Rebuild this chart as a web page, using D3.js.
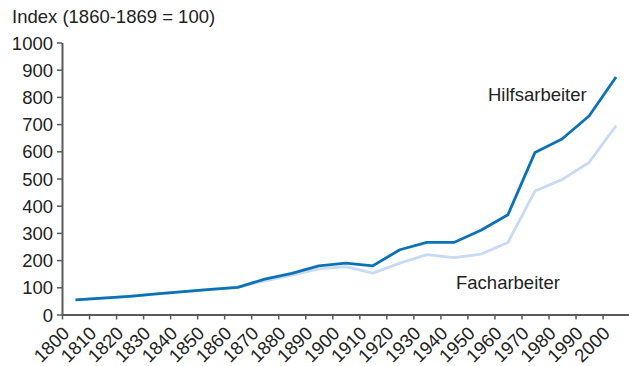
<!DOCTYPE html>
<html>
<head>
<meta charset="utf-8">
<script src="https://cdn.jsdelivr.net/npm/d3@7"></script>
<style>
  html, body { margin: 0; padding: 0; background: #fff; }
  svg text { font-family: "Liberation Sans", Arial, Helvetica, sans-serif; fill: #222; }
</style>
</head>
<body>
<svg id="chart" width="629" height="366"></svg>
<script>
// Decade midpoints (values plotted at the middle of each decade)
const years = [1805, 1815, 1825, 1835, 1845, 1855, 1865, 1875, 1885, 1895, 1905,
               1915, 1925, 1935, 1945, 1955, 1965, 1975, 1985, 1995, 2005];
// Real wage index, 1860-1869 = 100
const hilfsarbeiter = [54, 60, 67, 76, 84, 92, 100, 130, 151, 179, 189,
                       179, 238, 265, 265, 310, 367, 596, 645, 730, 873];
const facharbeiter  = [54, 60, 67, 76, 84, 92, 100, 124, 145, 168, 176,
                       152, 189, 220, 209, 222, 265, 454, 496, 559, 694];
const xTicks = d3.range(1800, 2001, 10);
const yTicks = d3.range(0, 1001, 100);

const svg = d3.select("#chart");
const x = d3.scaleLinear().domain([1800, 2010]).range([62, 629.6]);
const y = d3.scaleLinear().domain([0, 1000]).range([314.5, 42.5]);

// Title
svg.append("text").attr("x", 12).attr("y", 23)
  .style("font-size", "18.5px").text("Index (1860-1869 = 100)");

// Y axis
const yAxis = svg.append("g").attr("transform", "translate(62,0)")
  .call(d3.axisLeft(y).tickValues(yTicks).tickFormat(d3.format("d"))
    .tickSize(5).tickPadding(4).tickSizeOuter(0));
yAxis.selectAll("text").style("font-size", "18.5px").attr("dy", "0.36em");

// X axis with labels rotated 45 degrees
const xAxis = svg.append("g").attr("transform", "translate(0,314.5)")
  .call(d3.axisBottom(x).tickValues(xTicks).tickFormat(d3.format("d")).tickSize(5).tickSizeOuter(0));
xAxis.selectAll("text")
  .style("font-size", "18.5px")
  .attr("text-anchor", "end")
  .attr("x", 0).attr("y", 0).attr("dx", 0).attr("dy", 0)
  .attr("transform", "translate(8,20) rotate(-45)");

[yAxis, xAxis].forEach(g => {
  g.select(".domain").attr("stroke", "#5a5a5a").attr("stroke-width", 2);
  g.selectAll(".tick line").attr("stroke", "#5a5a5a").attr("stroke-width", 1.5);
});

const line = d3.line().x((d, i) => x(years[i])).y(d => y(d));

svg.append("path").datum(facharbeiter)
  .attr("fill", "none").attr("stroke", "#c8daf4").attr("stroke-width", 2.8)
  .attr("stroke-linejoin", "round").attr("d", line);
svg.append("path").datum(hilfsarbeiter)
  .attr("fill", "none").attr("stroke", "#0b72b6").attr("stroke-width", 2.8)
  .attr("stroke-linejoin", "round").attr("d", line);

// Series labels
svg.append("text").attr("x", 488).attr("y", 101)
  .style("font-size", "18.5px").text("Hilfsarbeiter");
svg.append("text").attr("x", 456).attr("y", 289)
  .style("font-size", "18.5px").text("Facharbeiter");
</script>
</body>
</html>
